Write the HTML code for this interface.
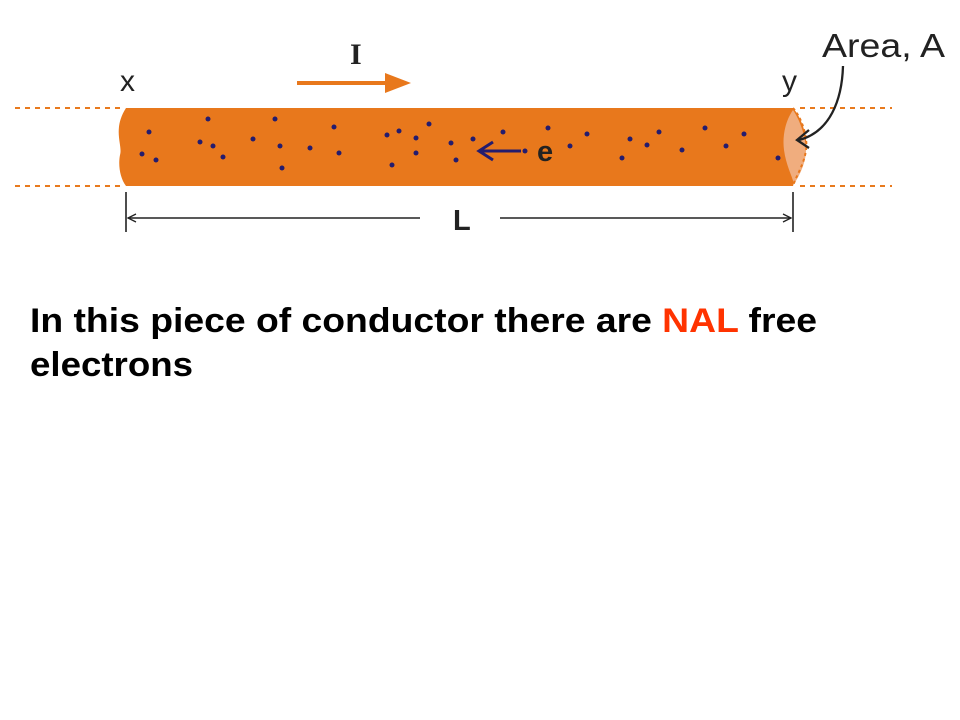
<!DOCTYPE html>
<html><head><meta charset="utf-8"><style>html,body{margin:0;padding:0;background:#fff;}svg{display:block}</style></head>
<body>
<svg width="960" height="720" viewBox="0 0 960 720" xmlns="http://www.w3.org/2000/svg">
<defs>
<marker id="ah" markerWidth="10" markerHeight="10" refX="9" refY="5" orient="auto" markerUnits="userSpaceOnUse"><path d="M1,1 L9,5 L1,9" fill="none" stroke="#222" stroke-width="1.3"/></marker>
</defs>
<g stroke="#e87a1e" stroke-width="2" stroke-dasharray="5,5">
<line x1="15" y1="108" x2="124" y2="108"/><line x1="15" y1="186" x2="124" y2="186"/>
<line x1="800" y1="108" x2="892" y2="108"/><line x1="800" y1="186" x2="892" y2="186"/>
</g>
<path d="M126,108 L793,108 C802,118 808,138 806,150 C804,165 796,176 793,186 L126,186 C120,178 118,165 120,155 C123,145 112,130 126,108 Z" fill="#e8781c"/>
<path d="M793,110 C786,120 782,135 784,150 C786,165 792,176 794,184 C800,175 806,162 806,150 C806,138 800,120 793,110 Z" fill="#f0ad7e"/>
<path d="M793,108 C802,118 808,138 806,150 C804,165 796,176 793,186" fill="none" stroke="#e8781c" stroke-width="2" stroke-dasharray="3,3"/>
<g fill="#241c6e">
<circle cx="149" cy="132" r="2.5"/><circle cx="142" cy="154" r="2.5"/><circle cx="156" cy="160" r="2.5"/>
<circle cx="208" cy="119" r="2.5"/><circle cx="200" cy="142" r="2.5"/><circle cx="213" cy="146" r="2.5"/>
<circle cx="223" cy="157" r="2.5"/><circle cx="253" cy="139" r="2.5"/><circle cx="275" cy="119" r="2.5"/>
<circle cx="280" cy="146" r="2.5"/><circle cx="282" cy="168" r="2.5"/><circle cx="310" cy="148" r="2.5"/>
<circle cx="334" cy="127" r="2.5"/><circle cx="339" cy="153" r="2.5"/><circle cx="387" cy="135" r="2.5"/>
<circle cx="399" cy="131" r="2.5"/><circle cx="392" cy="165" r="2.5"/><circle cx="416" cy="138" r="2.5"/>
<circle cx="416" cy="153" r="2.5"/><circle cx="429" cy="124" r="2.5"/><circle cx="451" cy="143" r="2.5"/>
<circle cx="456" cy="160" r="2.5"/><circle cx="473" cy="139" r="2.5"/><circle cx="503" cy="132" r="2.5"/>
<circle cx="525" cy="151" r="2.5"/><circle cx="548" cy="128" r="2.5"/><circle cx="570" cy="146" r="2.5"/>
<circle cx="587" cy="134" r="2.5"/><circle cx="630" cy="139" r="2.5"/><circle cx="622" cy="158" r="2.5"/>
<circle cx="647" cy="145" r="2.5"/><circle cx="659" cy="132" r="2.5"/><circle cx="682" cy="150" r="2.5"/>
<circle cx="705" cy="128" r="2.5"/><circle cx="726" cy="146" r="2.5"/><circle cx="744" cy="134" r="2.5"/>
<circle cx="778" cy="158" r="2.5"/>
</g>
<line x1="521" y1="151" x2="480" y2="151" stroke="#241c6e" stroke-width="3"/>
<path d="M493,142 L479,151 L493,160" fill="none" stroke="#241c6e" stroke-width="3"/>
<text x="537" y="161" font-family="Liberation Sans, sans-serif" font-weight="bold" font-size="29" fill="#222">e</text>
<line x1="297" y1="83" x2="396" y2="83" stroke="#e8781c" stroke-width="4"/>
<path d="M385,73 L411,83 L385,93 Z" fill="#e8781c"/>
<text x="350" y="64" font-family="Liberation Serif, serif" font-weight="bold" font-size="30" fill="#222">I</text>
<text x="120" y="91" font-family="Liberation Sans, sans-serif" font-size="30" fill="#222">x</text>
<text x="782" y="91" font-family="Liberation Sans, sans-serif" font-size="30" fill="#222">y</text>
<text x="822" y="57" font-family="Liberation Sans, sans-serif" font-size="33" fill="#222" textLength="123" lengthAdjust="spacingAndGlyphs">Area, A</text>
<path d="M843,66 C842,100 830,132 799,140" fill="none" stroke="#222" stroke-width="2.3"/>
<path d="M809,130 L797,140 L809,148" fill="none" stroke="#222" stroke-width="2.3"/>
<g stroke="#222" stroke-width="1.6">
<line x1="126" y1="192" x2="126" y2="232"/><line x1="793" y1="192" x2="793" y2="232"/>
<line x1="420" y1="218" x2="128" y2="218" marker-end="url(#ah)"/>
<line x1="500" y1="218" x2="791" y2="218" marker-end="url(#ah)"/>
</g>
<text x="453" y="230" font-family="Liberation Sans, sans-serif" font-weight="bold" font-size="29" fill="#222">L</text>
<text x="30" y="332" font-family="Liberation Sans, sans-serif" font-weight="bold" font-size="34" fill="#000" textLength="787" lengthAdjust="spacingAndGlyphs">In this piece of conductor there are <tspan fill="#ff3300">NAL</tspan> free</text>
<text x="30" y="376" font-family="Liberation Sans, sans-serif" font-weight="bold" font-size="34" fill="#000" textLength="163" lengthAdjust="spacingAndGlyphs">electrons</text>
</svg>
</body></html>
